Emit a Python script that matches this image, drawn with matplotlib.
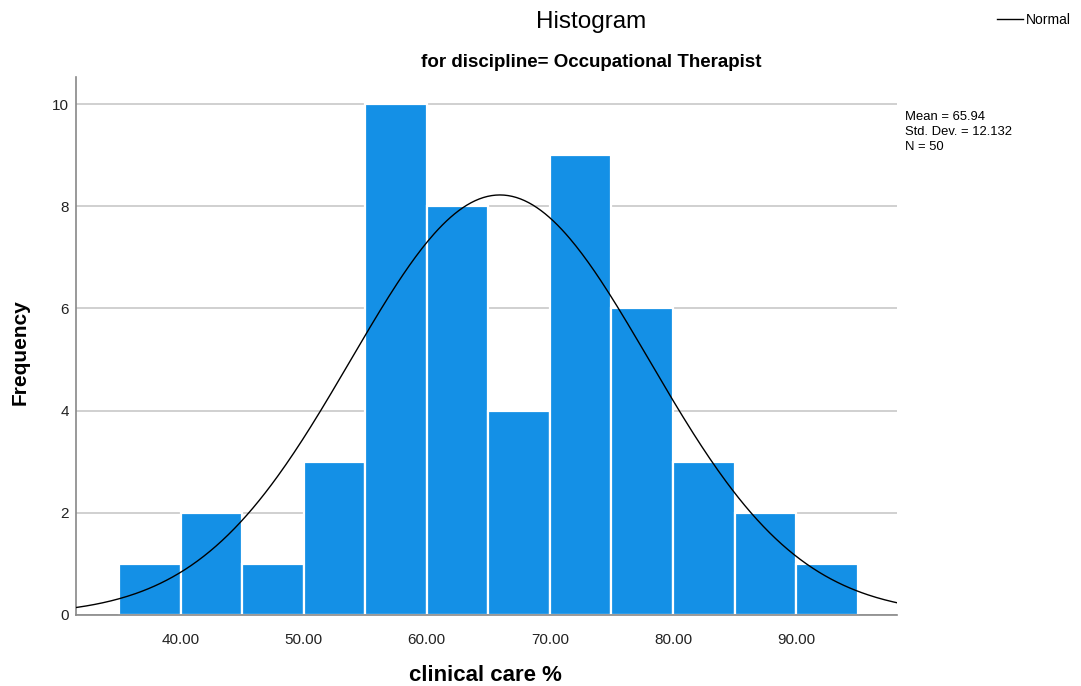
import matplotlib.pyplot as plt
import numpy as np

plt.rcParams["font.family"] = ["Liberation Sans", "DejaVu Sans"]

# histogram bins (clinical care %) and counts
bin_edges = [35, 40, 45, 50, 55, 60, 65, 70, 75, 80, 85, 90, 95]
counts = [1, 2, 1, 3, 10, 8, 4, 9, 6, 3, 2, 1]
x_ticks = [40, 50, 60, 70, 80, 90]
y_ticks = [0, 2, 4, 6, 8, 10]
mean, std, n = 65.94, 12.132, 50

fig = plt.figure(figsize=(10.81, 6.86), dpi=100)
ax = fig.add_axes([0.0703, 0.1035, 0.7595, 0.7843])

widths = np.diff(bin_edges)
ax.bar(bin_edges[:-1], counts, width=widths, align="edge",
       color="#1490e6", edgecolor="white", linewidth=1.6, zorder=2)

# fitted normal curve scaled to counts
xs = np.linspace(31.5, 98.2, 400)
ys = n * widths[0] * np.exp(-0.5 * ((xs - mean) / std) ** 2) / (std * np.sqrt(2 * np.pi))
line, = ax.plot(xs, ys, color="black", linewidth=1.0, zorder=3)

ax.set_xlim(31.5, 98.2)
ax.set_ylim(0, 10.53)
ax.set_xticks(x_ticks)
ax.set_xticklabels([f"{v:.2f}" for v in x_ticks], fontsize=11, color="#222222")
ax.set_yticks(y_ticks)
ax.set_yticklabels([str(v) for v in y_ticks], fontsize=11, color="#222222")
ax.tick_params(axis="x", length=0, pad=13)
ax.tick_params(axis="y", length=0, pad=5)
ax.yaxis.grid(True, color="#c8c8c8", linewidth=1.2, zorder=0)
ax.set_axisbelow(True)
for s in ["top", "right"]:
    ax.spines[s].set_visible(False)
for s in ["left", "bottom"]:
    ax.spines[s].set_color("#888888")
    ax.spines[s].set_linewidth(1.2)

fig.text(0.4495, 0.016, "clinical care %", ha="center", va="center",
         fontsize=16, fontweight="bold")
fig.text(0.019, 0.487, "Frequency", ha="center", va="center", rotation=90,
         fontsize=15, fontweight="bold")

fig.text(0.547, 0.968, "Histogram", ha="center", va="center", fontsize=17.5)
fig.text(0.547, 0.909, "for discipline= Occupational Therapist", ha="center",
         va="center", fontsize=13.5, fontweight="bold")

fig.legend([line], ["Normal"], loc="center left", bbox_to_anchor=(0.922, 0.971),
           frameon=False, fontsize=10, handlelength=1.9, handletextpad=0.2,
           borderpad=0, borderaxespad=0)

fig.text(0.837, 0.838, f"Mean = {mean:.2f}\nStd. Dev. = {std:.3f}\nN = {n}",
         ha="left", va="top", fontsize=9.4, linespacing=1.32)

fig.savefig("out.png", dpi=100)
